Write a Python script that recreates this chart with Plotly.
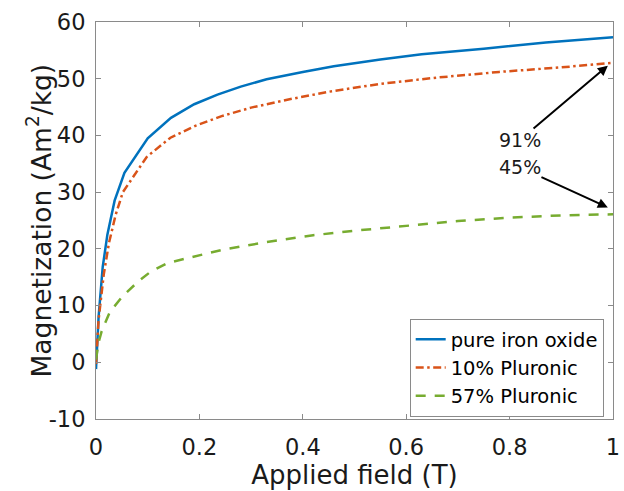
import plotly.graph_objects as go

# ---- data ----
field_pure = [0, 0.005, 0.013, 0.022, 0.036, 0.055, 0.1, 0.145, 0.19, 0.235, 0.28, 0.33, 0.4, 0.46, 0.55, 0.63, 0.75, 0.87, 1.0]
mag_pure = [-1.2, 8.0, 16.8, 22.5, 28.5, 33.4, 39.5, 43.1, 45.5, 47.2, 48.6, 49.9, 51.2, 52.2, 53.4, 54.3, 55.3, 56.4, 57.3]

field_10 = [0, 0.005, 0.015, 0.025, 0.038, 0.052, 0.098, 0.144, 0.192, 0.243, 0.3, 0.37, 0.45, 0.55, 0.66, 0.78, 0.9, 1.0]
mag_10 = [-0.3, 7.5, 15.5, 21.0, 26.0, 30.0, 36.2, 39.6, 41.7, 43.4, 44.9, 46.3, 47.7, 49.1, 50.2, 51.2, 52.0, 52.8]

field_57 = [0, 0.005, 0.011, 0.027, 0.052, 0.081, 0.106, 0.138, 0.179, 0.243, 0.33, 0.42, 0.5, 0.6, 0.7, 0.8, 0.9, 1.0]
mag_57 = [0.5, 3.5, 5.5, 8.9, 11.7, 14.2, 16.0, 17.5, 18.4, 19.8, 21.2, 22.4, 23.2, 24.1, 24.9, 25.5, 25.9, 26.1]

series_names = ["pure iron oxide", "10% Pluronic", "57% Pluronic"]

# annotation labels: text, label centre, arrow tip
annot_text = ["91%", "45%"]
annot_label_x = [0.82, 0.82]
annot_label_y = [39.2, 34.4]
arrow_tip_x = [0.99, 0.99]
arrow_tip_y = [52.3, 27.3]

x_ticks = [0, 0.2, 0.4, 0.6, 0.8, 1]
x_ticklabels = ["0", "0.2", "0.4", "0.6", "0.8", "1"]
y_ticks = [-10, 0, 10, 20, 30, 40, 50, 60]
y_ticklabels = ["-10", "0", "10", "20", "30", "40", "50", "60"]

x_title = "Applied field (T)"
y_title = "Magnetization (Am<sup>2</sup>/kg)"

FONT = "DejaVu Sans"
AXC = "#8a8a8a"
TXT = "#1a1a1a"

fig = go.Figure()
fig.add_trace(go.Scatter(x=field_pure, y=mag_pure, mode="lines", name=series_names[0],
                         line=dict(color="#0072BD", width=2.5)))
fig.add_trace(go.Scatter(x=field_10, y=mag_10, mode="lines", name=series_names[1],
                         line=dict(color="#D95319", width=2.5, dash="8px,3.5px,2.5px,3.5px")))
fig.add_trace(go.Scatter(x=field_57, y=mag_57, mode="lines", name=series_names[2],
                         line=dict(color="#77AC30", width=2.5, dash="10px,9px")))

for i in range(len(annot_text)):
    fig.add_annotation(x=arrow_tip_x[i], y=arrow_tip_y[i], ax=annot_label_x[i], ay=annot_label_y[i],
                       xref="x", yref="y", axref="x", ayref="y", text=annot_text[i], showarrow=True,
                       arrowhead=2, arrowsize=1, arrowwidth=2, arrowcolor="black", standoff=0,
                       borderpad=0, font=dict(family=FONT, size=19, color=TXT))

# y-axis title placed as rotated text to the left of the tick labels
fig.add_annotation(x=0, y=0.5, xref="paper", yref="paper", text=y_title, textangle=-90,
                   xanchor="center", yanchor="middle", xshift=-57, showarrow=False,
                   font=dict(family=FONT, size=26.5, color=TXT))

axis_common = dict(showline=True, linecolor=AXC, linewidth=1, mirror="ticks", ticks="inside",
                   ticklen=5, tickcolor=AXC, showgrid=False, zeroline=False,
                   tickfont=dict(family=FONT, size=22.5, color=TXT))

fig.update_xaxes(range=[0, 1], tickvals=x_ticks, ticktext=x_ticklabels, ticklabeloverflow="allow",
                 title=dict(text=x_title, font=dict(family=FONT, size=26, color=TXT), standoff=4),
                 ticklabelstandoff=8, **axis_common)
fig.update_yaxes(range=[-10, 60], tickvals=y_ticks, ticktext=y_ticklabels, ticklabeloverflow="allow",
                 ticklabelstandoff=5, **axis_common)

fig.update_layout(
    width=624, height=491,
    margin=dict(l=96, r=4, t=22, b=72),
    plot_bgcolor="white", paper_bgcolor="white",
    legend=dict(x=0.982, xanchor="right", y=0.252, yanchor="top",
                bordercolor=AXC, borderwidth=1, bgcolor="white",
                font=dict(family=FONT, size=19.5, color="black"),
                tracegroupgap=0),
)

fig.write_html("out.html")
